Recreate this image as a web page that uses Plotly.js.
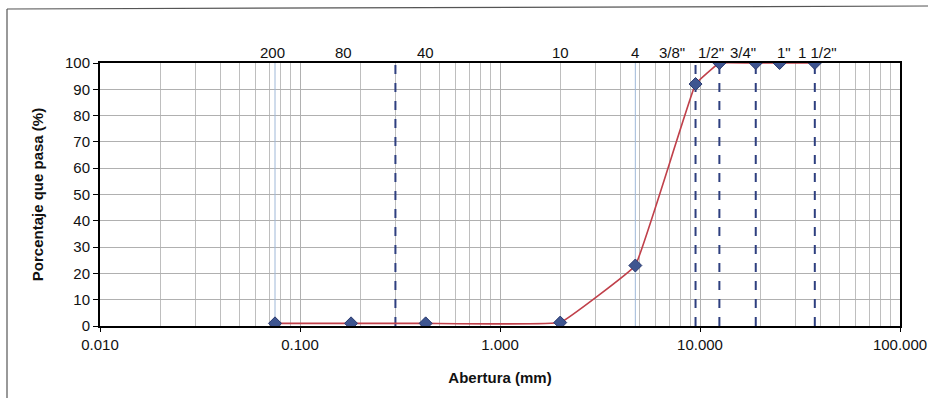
<!DOCTYPE html>
<html>
<head>
<meta charset="utf-8">
<script src="https://cdn.plot.ly/plotly-3.0.1.min.js"></script>
<style>html,body{margin:0;padding:0;background:#fff;}#chart{width:928px;height:401px;}</style>
</head>
<body>
<div id="chart"></div>
<script>
// Sieve data
const sieveNames = ['200', '80', '40', '10', '4', '3/8"', '1/2"', '3/4"', '1"', '1 1/2"'];
const aperture = [0.075, 0.18, 0.425, 2.0, 4.75, 9.5, 12.5, 19.0, 25.0, 37.5];
const passing = [1.0, 1.0, 1.0, 1.3, 23.0, 92.0, 100.0, 100.0, 100.0, 100.0];
const labelShift = [-3, -8, 0, 0, 0, -24, -8, -13, 4, 3];

// reference vertical lines
const dashedLines = [0.3, 9.5, 12.5, 19.0, 37.5];
const lightLines = [0.075, 4.75];

const xTickVals = [0.01, 0.1, 1, 10, 100];
const xTickText = ['0.010', '0.100', '1.000', '10.000', '100.000'];

const traces = [];
lightLines.forEach(v => traces.push({
  x: [v, v], y: [0, 100], mode: 'lines', hoverinfo: 'skip', showlegend: false,
  line: {color: '#9FB8D8', width: 1}
}));
dashedLines.forEach(v => traces.push({
  x: [v, v], y: [0, 100], mode: 'lines', hoverinfo: 'skip', showlegend: false,
  line: {color: '#2E3F7F', width: 2, dash: 'dash'}
}));
traces.push({
  x: aperture, y: passing, mode: 'lines+markers', showlegend: false,
  line: {color: '#C0404A', width: 1.6, shape: 'spline', smoothing: 0.2},
  marker: {symbol: 'diamond', size: 10, color: '#3E5590', line: {color: '#2B3B70', width: 1}}
});

const annotations = sieveNames.map((n, i) => ({
  x: Math.log10(aperture[i]), y: 1, xref: 'x', yref: 'paper',
  yanchor: 'bottom', xanchor: 'center', yshift: 0, xshift: labelShift[i],
  text: n, showarrow: false,
  font: {family: 'Liberation Sans, Arial, sans-serif', size: 15, color: '#111'}
}));

const layout = {
  width: 928, height: 401,
  margin: {l: 100, r: 28, t: 63, b: 75},
  paper_bgcolor: '#fff', plot_bgcolor: '#fff',
  font: {family: 'Liberation Sans, Arial, sans-serif', size: 15, color: '#111'},
  xaxis: {
    type: 'log', range: [-2, 2],
    tickmode: 'array', tickvals: xTickVals, ticktext: xTickText,
    showgrid: true, gridcolor: '#B0B0B0', gridwidth: 1,
    minor: {dtick: 'D1', showgrid: true, gridcolor: '#BEBEBE', gridwidth: 1, ticks: ''},
    ticks: 'outside', ticklen: 4, tickcolor: '#000',
    showline: true, linecolor: '#000', linewidth: 2, mirror: true,
    zeroline: false,
    tickfont: {size: 15},
    title: {text: '<b>Abertura (mm)</b>', font: {size: 15}, standoff: 20}
  },
  yaxis: {
    range: [0, 100], dtick: 10,
    showgrid: true, gridcolor: '#B0B0B0', gridwidth: 1,
    ticks: 'outside', ticklen: 5, tickcolor: '#000',
    showline: true, linecolor: '#000', linewidth: 2, mirror: true,
    zeroline: false,
    tickfont: {size: 15},
    title: {text: '<b>Porcentaje que pasa (%)</b>', font: {size: 15}, standoff: 18}
  },
  annotations: annotations,
  shapes: []
};
Plotly.newPlot('chart', traces, layout, {staticPlot: true}).then(() => {
  // outer frame (left and top edges)
  const W = 928 - 100 - 28, H = 401 - 63 - 75;
  const px = x => (x - 100) / W, py = y => 1 - (y - 63) / H;
  Plotly.relayout('chart', {shapes: [
    {type: 'line', xref: 'paper', yref: 'paper', x0: px(7), x1: px(7), y0: py(9), y1: py(398), line: {color: '#555', width: 1.2}},
    {type: 'line', xref: 'paper', yref: 'paper', x0: px(7), x1: px(930), y0: py(9), y1: py(6), line: {color: '#555', width: 1.2}}
  ]});
});
</script>
</body>
</html>
